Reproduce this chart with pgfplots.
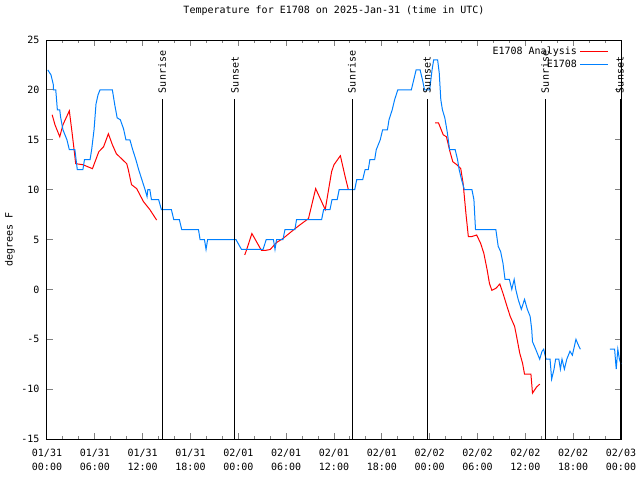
\documentclass[border=0pt]{standalone}
\usepackage{pgfplots}
\pgfplotsset{compat=1.18}
\usepackage{fontspec}
\setmainfont{DejaVu Sans Mono}
\definecolor{obsblue}{RGB}{0,128,255}
\definecolor{anared}{RGB}{255,0,0}
\begin{document}
\fontsize{7.5}{10.5}\selectfont
\begin{tikzpicture}
\useasboundingbox (-35.25pt,-30.75pt) rectangle (444.75pt,329.25pt);
\begin{axis}[
  scale only axis, width=430.5pt, height=299.25pt,
  at={(0pt,0pt)}, anchor=south west,
  xmin=0, xmax=72, ymin=-15, ymax=25,
  xtick={0,6,...,72},
  xticklabels={{01/31\\00:00},{01/31\\06:00},{01/31\\12:00},{01/31\\18:00},{02/01\\00:00},{02/01\\06:00},{02/01\\12:00},{02/01\\18:00},{02/02\\00:00},{02/02\\06:00},{02/02\\12:00},{02/02\\18:00},{02/03\\00:00}},
  minor x tick num=2,
  ytick={-15,-10,...,25},
  /pgf/number format/assume math mode=true,
  tick align=inside,
  major tick length=4.5pt, minor tick length=2.25pt,
  axis line style={line width=0.75pt},
  tick style={line width=0.75pt},
  xticklabel style={align=center, anchor=center, yshift=-15.75pt, font=\fontsize{7.5}{10.5}\selectfont},
  yticklabel style={anchor=east, inner sep=0pt, xshift=-5.5pt, font=\fontsize{7.5}{10.5}\selectfont},
  ylabel={degrees F},
  ylabel style={at={(axis description cs:-0.0645,0.5)}, anchor=center, font=\fontsize{7.5}{10.5}\selectfont},
  title={Temperature for E1708 on 2025-Jan-31 (time in UTC)},
  title style={at={(axis description cs:0.5,1)}, anchor=center, yshift=15.75pt, font=\fontsize{7.5}{10.5}\selectfont},
  legend style={at={(axis description cs:1,1)}, anchor=north east, xshift=-6pt, yshift=-1pt, draw=none, fill=none, legend cell align=right, row sep=-1pt},
  legend plot pos=right,
  legend image code/.code={\draw[#1] (0pt,0pt) -- (21pt,0pt);},
  unbounded coords=jump,
  clip=false,
]
\addlegendimage{draw=anared, line width=0.9pt}
\addlegendentry{E1708 Analysis}
\addlegendimage{draw=obsblue, line width=0.9pt}
\addlegendentry{E1708}
\addplot[color=anared, line width=0.75pt, forget plot] coordinates {
(0.65,17.5) (1.0,16.5) (1.6,15.3) (2.0,16.5) (2.8,17.9) (3.1,16) (3.4,14) (3.6,12.6) (4.5,12.5) (5.7,12.1) (6.5,13.8) (7.1,14.3) (7.7,15.6) (8.2,14.5) (8.7,13.6) (10.0,12.6) (10.2,12) (10.6,10.5) (11.25,10.1) (12.1,8.8) (12.9,8.0) (13.75,6.95)
(20,nan)
(24.8,3.45) (25.05,4) (25.7,5.6) (26.9,3.9) (27.35,3.9) (28.0,4.0) (28.8,4.7) (29.6,5.1) (30.9,5.95) (31.7,6.45) (32.8,7.1) (33.7,10.1) (34.9,8.0) (35.7,11.8) (36.0,12.5) (36.8,13.4) (37.4,11.3) (37.8,10.0)
(44,nan)
(48.7,16.7) (49.1,16.7) (49.7,15.5) (50.1,15.3) (50.55,13.8) (50.9,12.8) (51.4,12.5) (51.9,12.1) (52.2,10.6) (52.55,7.6) (52.85,5.3) (53.3,5.3) (53.9,5.45) (54.4,4.6) (54.8,3.6) (55.2,2) (55.5,0.6) (55.8,-0.1) (56.3,0.1) (56.8,0.54) (57.2,-0.4) (57.7,-1.7) (58.1,-2.7) (58.65,-3.7) (58.9,-4.7) (59.3,-6.4) (59.65,-7.4) (59.9,-8.5) (60.7,-8.5) (60.9,-10.4) (61.4,-9.8) (61.8,-9.5)
};
\addplot[color=obsblue, line width=0.75pt, forget plot] coordinates {
(0.1,22) (0.5,21.5) (0.8,20.5) (0.8,20) (1.1,20) (1.3,18) (1.6,18) (1.7,17.3) (2.0,16) (2.5,15) (2.8,14) (3.5,14) (3.8,12) (4.5,12) (4.7,13) (5.4,13) (5.6,14) (5.9,16) (6.15,18.6) (6.4,19.5) (6.65,20) (8.2,20) (8.5,18.5) (8.8,17.2) (9.2,17) (9.6,16.1) (9.9,15) (10.4,15) (10.75,14) (11.15,13) (11.5,12) (11.9,11) (12.3,10) (12.55,9.3) (12.65,10) (12.9,10) (13.1,9) (14.0,9) (14.35,8) (15.6,8) (15.9,7) (16.6,7) (16.9,6) (19.0,6) (19.2,5) (19.75,5) (19.95,4) (20.15,5) (23.7,5) (24.4,4) (27.1,4) (27.5,5) (28.4,5) (28.6,4) (28.8,5) (29.6,5) (29.85,6) (31.1,6) (31.3,7) (34.45,7) (34.7,8) (35.5,8) (35.75,9) (36.4,9) (36.65,10) (38.6,10) (38.85,11) (39.6,11) (39.9,12) (40.3,12) (40.5,13) (41.1,13) (41.3,14) (41.8,15) (42.1,16) (42.7,16) (42.9,17) (43.3,18) (43.6,19) (44.0,20) (45.7,20) (46.0,21) (46.3,22) (46.8,22) (47.1,21) (47.35,20) (48.0,20) (48.3,22) (48.5,23) (49.0,23) (49.2,21.7) (49.4,19) (49.6,18) (49.9,17.2) (50.2,15.8) (50.5,14) (51.2,14) (51.5,13) (51.7,12) (52.0,11) (52.35,10) (53.3,10) (53.55,9) (53.75,6) (56.3,6) (56.6,4.3) (56.9,3.8) (57.2,2.6) (57.45,1) (58.0,1) (58.3,0) (58.6,1) (58.8,0) (59.1,-1) (59.5,-2) (59.9,-1) (60.25,-2) (60.6,-2.7) (60.8,-4) (60.9,-5.25) (61.3,-6) (61.8,-7) (62.1,-6.2) (62.3,-6) (62.6,-7) (63.1,-7) (63.3,-9) (63.6,-8) (63.8,-7) (64.2,-7) (64.4,-8) (64.6,-7) (64.9,-8) (65.2,-7) (65.6,-6.2) (65.9,-6.6) (66.35,-5) (66.6,-5.5) (66.9,-6)
(68,nan)
(70.6,-6) (71.2,-6) (71.4,-8) (71.6,-6) (71.8,-7) (72,-7.5)
};
\addplot[black, line width=0.75pt, forget plot] coordinates {(14.43,-15) (14.43,19.1)} node[pos=1, rotate=90, anchor=west, inner sep=4pt] {Sunrise};
\addplot[black, line width=0.75pt, forget plot] coordinates {(23.58,-15) (23.58,19.1)} node[pos=1, rotate=90, anchor=west, inner sep=4pt] {Sunset};
\addplot[black, line width=0.75pt, forget plot] coordinates {(38.26,-15) (38.26,19.1)} node[pos=1, rotate=90, anchor=west, inner sep=4pt] {Sunrise};
\addplot[black, line width=0.75pt, forget plot] coordinates {(47.67,-15) (47.67,19.1)} node[pos=1, rotate=90, anchor=west, inner sep=4pt] {Sunset};
\addplot[black, line width=0.75pt, forget plot] coordinates {(62.47,-15) (62.47,19.1)} node[pos=1, rotate=90, anchor=west, inner sep=4pt] {Sunrise};
\addplot[black, line width=0.75pt, forget plot] coordinates {(71.88,-15) (71.88,19.1)} node[pos=1, rotate=90, anchor=west, inner sep=4pt] {Sunset};
\end{axis}
\end{tikzpicture}
\end{document}
